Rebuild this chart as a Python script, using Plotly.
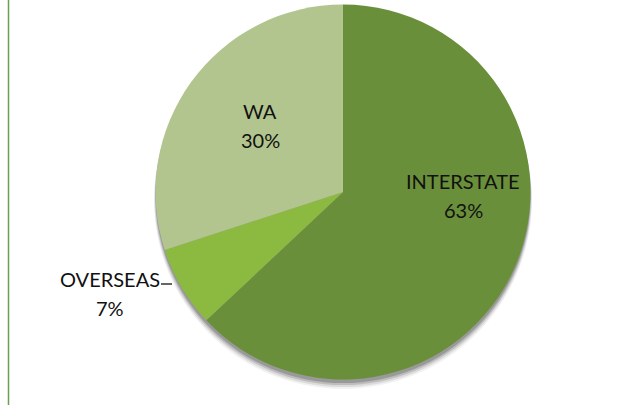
import plotly.graph_objects as go

labels = ["INTERSTATE", "OVERSEAS", "WA"]
values = [63, 7, 30]
colors = ["#6a8f3a", "#8cb940", "#b2c58e"]

# label anchor positions (pixel) for each slice's two text lines
label_xy = {"INTERSTATE": (463, 181), "OVERSEAS": (110, 279), "WA": (260, 111)}
line_gap = 29

W, H = 640, 405
cx, cy, r = 343, 192, 187.5

def dom(cx_, cy_, rr):
    return dict(x=[(cx_ - rr) / W, (cx_ + rr) / W],
                y=[(H - cy_ - rr) / H, (H - cy_ + rr) / H])

fig = go.Figure()

# soft shadow layers drawn before the pie
for off, rr, col in [(8, 189, "#f2f2f2"), (6.5, 188.5, "#dcdcdc"), (5, 188, "#bdbdbd"), (3.5, 187.5, "#999999")]:
    fig.add_trace(go.Pie(
        values=[sum(values)], labels=["shadow"], sort=False,
        marker=dict(colors=[col], line=dict(width=0)),
        textinfo="none", hoverinfo="skip", showlegend=False,
        domain=dom(cx, cy + off, rr),
    ))

fig.add_trace(go.Pie(
    labels=labels,
    values=values,
    sort=False,
    direction="clockwise",
    rotation=0,
    marker=dict(colors=colors, line=dict(width=0)),
    textinfo="none",
    hoverinfo="label+percent",
    showlegend=False,
    domain=dom(cx, cy, r),
))

total = sum(values)
annotations = []
for lab, val in zip(labels, values):
    x, y = label_xy[lab]
    pct = f"{round(100 * val / total)}%"
    for txt, yy in [(lab, y), (pct, y + line_gap)]:
        annotations.append(dict(
            x=x / W, y=(H - yy) / H, xref="paper", yref="paper",
            text=txt, showarrow=False,
            font=dict(family="Lato", size=20, color="#111111"),
            xanchor="center", yanchor="middle",
        ))

shapes = [
    dict(type="line", xref="paper", yref="paper",
         x0=8.5 / W, x1=8.5 / W, y0=0, y1=1,
         line=dict(color="#6aa04e", width=1.5)),
    dict(type="line", xref="paper", yref="paper",
         x0=161 / W, x1=172 / W, y0=(H - 284) / H, y1=(H - 284) / H,
         line=dict(color="#111111", width=1.3)),
]

fig.update_layout(
    width=W, height=H,
    margin=dict(l=0, r=0, t=0, b=0),
    paper_bgcolor="white",
    plot_bgcolor="white",
    shapes=shapes,
    annotations=annotations,
)

fig.write_html("out.html")
